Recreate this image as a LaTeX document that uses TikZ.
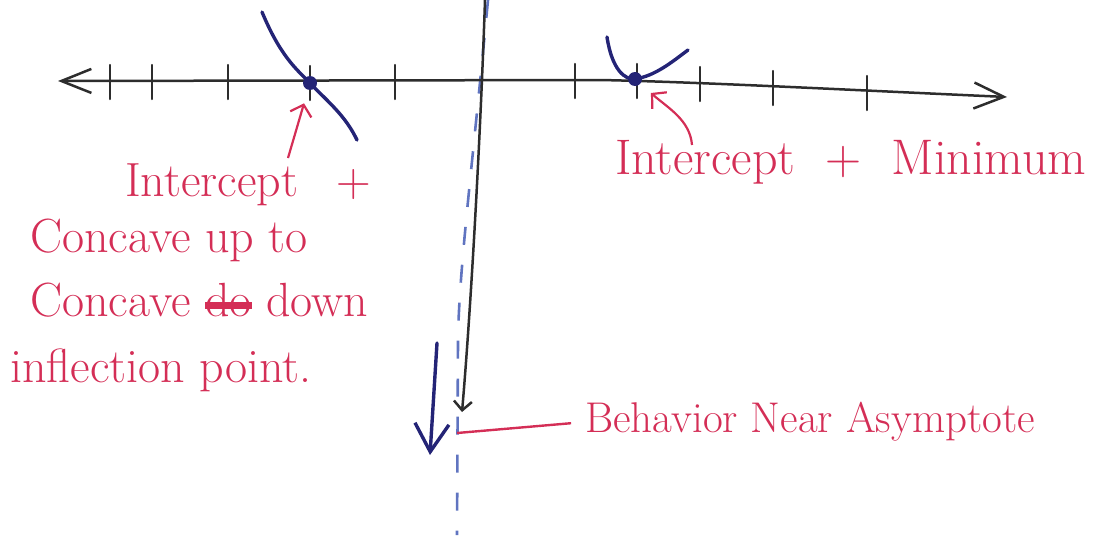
\documentclass[tikz,border=0pt]{standalone}
\usepackage{tikz}
\definecolor{inkred}{RGB}{212,46,86}
\definecolor{inknavy}{RGB}{36,36,118}
\definecolor{inkblue}{RGB}{96,116,192}
\definecolor{pencil}{RGB}{45,45,45}
\usetikzlibrary{arrows.meta}
\newcommand{\strikeword}[1]{\setbox0\hbox{#1}\rlap{\rule[0.16em]{\wd0}{7pt}}\box0\relax}
\tikzstyle{note} = [anchor=west, inner sep=0pt, text=inkred,
    font=\fontsize{48}{54}\selectfont]
\tikzstyle{pointer} = [draw=inkred, line width=2.2pt,
    -{Straight Barb[length=10pt,width=22pt]}]
\tikzstyle{graph} = [draw=inknavy, line width=3.4pt, line cap=round]
\tikzstyle{dotpt} = [circle, fill=inknavy, inner sep=0pt, minimum size=14pt]
\tikzstyle{axis} = [draw=pencil, line width=2.5pt, line cap=round]
\tikzstyle{asym} = [draw=inkblue, line width=2.6pt, dash pattern=on 18pt off 20pt]

\begin{document}
\begin{tikzpicture}[x=1pt, y=-1pt]
  \useasboundingbox (0,0) rectangle (1118,551);
  \coordinate (xleft) at (58,81);
  \coordinate (xright) at (1007,97);
  \coordinate (ytop) at (485,0);
  \coordinate (ybot) at (462,412);
  \coordinate (asymtop) at (488,0);
  \coordinate (asymbot) at (457,535);
  \draw[asym] (asymtop) .. controls (472,170) and (459,270) .. (458,340) -- (asymbot);
  \draw[axis, {Straight Barb[length=30pt,width=24pt]}-{Straight Barb[length=30pt,width=26pt]}]
    (xleft) -- (600,80) .. controls (700,82) and (850,90) .. (xright);
  \foreach \x/\y in {110/81,152/81,228/81,310/82,395/81,575/80,637/80,700/83,773/87,867/92}
    \draw[axis] (\x,\y-16) -- (\x,\y+18);
  \draw[axis, -{Straight Barb[length=9pt,width=18pt]}] (ytop) .. controls (480,150) and (470,320) .. (ybot);
  \node [dotpt] (xint) at (310,83) {};
  \node [dotpt] (minpt) at (635,79) {};
  \draw[graph] (262,12) .. controls (280,55) and (295,68) .. (xint.center)
    .. controls (328,102) and (345,115) .. (357,140);
  \draw[graph] (607,37) .. controls (612,70) and (625,80) .. (minpt.center)
    .. controls (655,76) and (672,62) .. (688,50);
  \coordinate (fallfrom) at (437,343);
  \coordinate (fallto) at (430,455);
  \draw[graph, -{Straight Barb[length=28pt,width=34pt]}] (fallfrom) -- (fallto);
  \node [note] (icpt) at (125,185) {Intercept \enspace+};
  \node [note] (ccup) at (30,240) {Concave up to};
  \node [note] (ccdown) at (30,300) {Concave \strikeword{do} down};
  \node [note] (inflpt) at (10,370) {inflection point.};
  \node [note, font=\fontsize{50}{56}\selectfont] (icptmin) at (615,162) {Intercept \ + \ Minimum};
  \node [note, font=\fontsize{43}{48}\selectfont] (behav) at (585,422) {Behavior Near Asymptote};
  \coordinate (inflfoot) at (288,158);
  \coordinate (minfoot) at (692,145);
  \coordinate (nearasym) at (457,433);
  \draw[pointer, shorten >=14pt] (inflfoot) -- (xint);
  \draw[pointer, shorten >=14pt] (minfoot) .. controls (690,120) and (668,108) .. (minpt);
  \draw[inkred, line width=2.4pt, shorten >=14pt] (nearasym) -- (behav.west);
\end{tikzpicture}
\end{document}
